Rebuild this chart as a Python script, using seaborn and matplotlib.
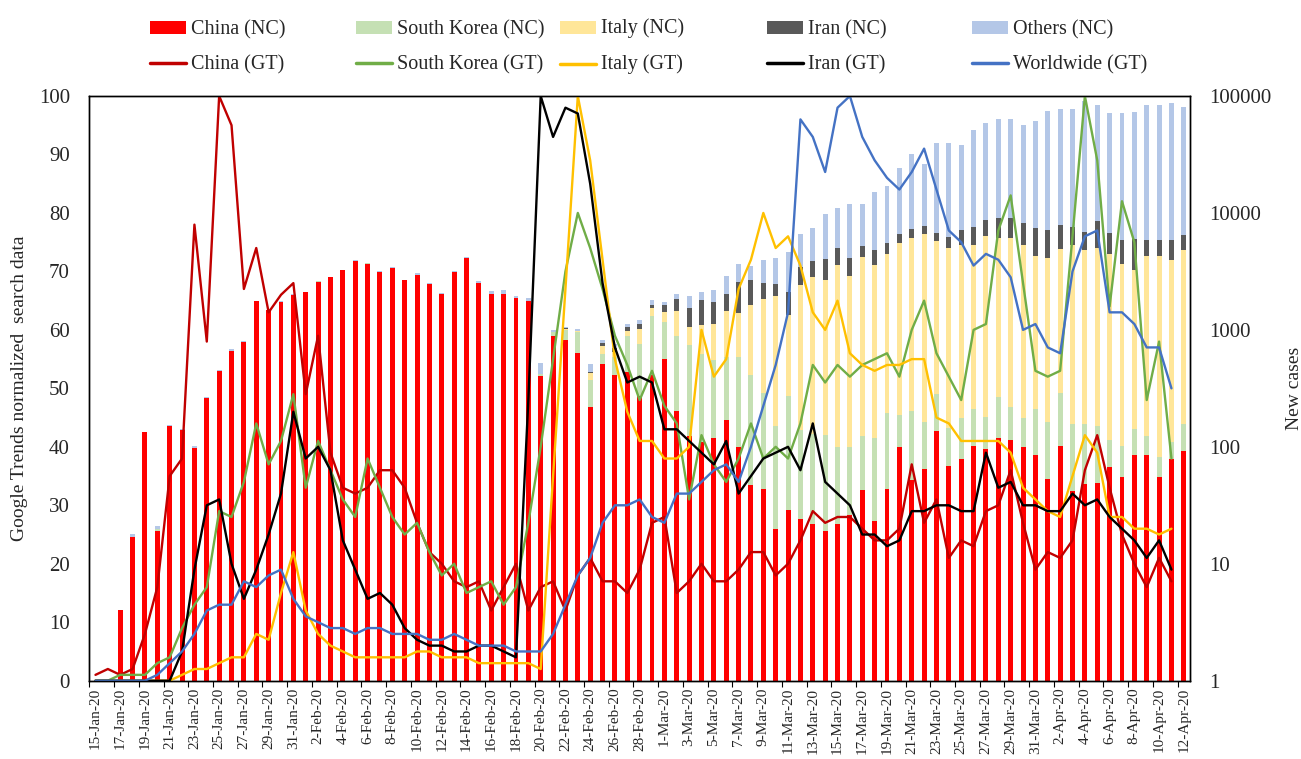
import pandas as pd
import seaborn as sns
import matplotlib.pyplot as plt
import numpy as np
from matplotlib.patches import Patch
from matplotlib.lines import Line2D
from matplotlib.ticker import FixedLocator, FuncFormatter, NullLocator

# Dates (daily, 15-Jan-20 .. 12-Apr-20)
days = pd.date_range('2020-01-15', '2020-04-12')
day_labels = [f"{d.day}-{d:%b}-20" for d in days]

# New cases (NC), stacked on the log axis
china_nc = [0, 0, 4, 17, 134, 19, 151, 140, 97, 259,
            441, 665, 787, 1753, 1466, 1740, 1980, 2102, 2590, 2829,
            3235, 3887, 3694, 3143, 3385, 2652, 2973, 2467, 2015, 3130,
            4130, 2530, 2020, 2020, 1870, 1760, 400, 881, 817, 637,
            219, 508, 415, 438, 274, 415, 569, 203, 124, 111,
            118, 168, 100, 47, 44, 20, 29, 24, 22, 19,
            22, 26, 43, 23, 44, 100, 52, 65, 136, 68,
            79, 101, 95, 120, 115, 99, 85, 53, 101, 42,
            48, 49, 67, 55, 85, 85, 55, 79, 92]
sk_nc = [0, 0, 0, 0, 0, 1, 0, 0, 0, 1,
         0, 0, 1, 0, 0, 2, 6, 1, 3, 0,
         0, 5, 3, 1, 0, 3, 0, 0, 0, 0,
         0, 0, 1, 1, 1, 15, 20, 70, 190, 313,
         152, 120, 167, 443, 484, 898, 595, 678, 617, 517,
         430, 414, 482, 368, 245, 130, 245, 115, 107, 107,
         77, 73, 81, 95, 151, 88, 151, 99, 149, 76,
         98, 110, 86, 148, 104, 76, 126, 109, 188, 114,
         108, 101, 48, 46, 56, 39, 27, 30, 64]
italy_nc = [0, 0, 0, 0, 0, 0, 0, 0, 0, 0,
            0, 0, 0, 0, 0, 0, 2, 0, 0, 0,
            0, 0, 0, 1, 0, 0, 0, 0, 0, 0,
            0, 0, 0, 0, 0, 0, 0, 3, 15, 23,
            54, 102, 70, 105, 266, 236, 252, 578, 323, 477,
            582, 877, 802, 1232, 1539, 1795, 1059, 2301, 2701, 2564,
            3511, 2801, 4106, 3492, 4265, 5392, 5947, 6426, 5425, 4846,
            5193, 5159, 6209, 5842, 5891, 5195, 4079, 3968, 4591, 5214,
            4644, 4840, 4345, 3589, 3099, 4166, 4208, 3877, 4644]
iran_nc = [0, 0, 0, 0, 0, 0, 0, 0, 0, 0,
           0, 0, 0, 0, 0, 0, 0, 0, 0, 0,
           0, 0, 0, 0, 0, 0, 0, 0, 0, 0,
           0, 0, 0, 0, 0, 2, 3, 10, 10, 14,
           13, 39, 46, 62, 106, 98, 231, 369, 485, 700,
           608, 559, 1186, 1043, 666, 530, 762, 980, 1060, 1350,
           1380, 1230, 950, 1190, 1120, 1010, 1110, 1070, 1030, 1260,
           1730, 2280, 2380, 2930, 2930, 2760, 3090, 2970, 2950, 2180,
           2090, 3500, 2330, 2200, 2690, 1600, 1600, 1910, 1690]
others_nc = [0, 0, 0, 1, 1, 1, 2, 2, 5, 8,
             12, 15, 10, 20, 15, 20, 25, 15, 20, 30,
             30, 45, 35, 45, 70, 40, 70, 40, 40, 50,
             60, 70, 150, 160, 60, 90, 100, 40, 20, 37,
             71, 48, 66, 82, 89, 156, 91, 190, 396, 315,
             439, 859, 1120, 860, 1486, 1655, 2525, 3170, 3540, 5780,
             6010, 7720, 6670, 10300, 11320, 17710, 24840, 18540, 32860, 33350,
             31100, 43850, 50230, 54660, 54660, 48770, 53820, 66900, 68970, 69250,
             83110, 74980, 64310, 65210, 67470, 77910, 77910, 80710, 74610]

# Google Trends (GT), 15-Jan-20 .. 11-Apr-20
china_gt = [1, 2, 1, 2, 8, 16, 35, 38, 78, 58,
            100, 95, 67, 74, 63, 66, 68, 49, 59, 39,
            33, 32, 33, 36, 36, 33, 27, 22, 20, 17,
            16, 17, 12, 16, 20, 12, 16, 17, 12, 18,
            21, 17, 17, 15, 19, 27, 28, 15, 17, 20,
            17, 17, 19, 22, 22, 18, 20, 24, 29, 27,
            28, 28, 26, 24, 24, 26, 37, 27, 31, 21,
            24, 23, 29, 30, 36, 27, 19, 22, 21, 24,
            36, 42, 33, 25, 20, 16, 21, 17]
sk_gt = [0, 0, 1, 1, 1, 3, 4, 9, 13, 16,
         29, 28, 34, 44, 37, 41, 49, 33, 41, 36,
         31, 28, 38, 33, 28, 25, 27, 22, 18, 20,
         15, 16, 17, 13, 16, 27, 40, 55, 70, 80,
         74, 67, 59, 54, 48, 53, 47, 44, 31, 42,
         37, 34, 38, 44, 38, 40, 38, 44, 54, 51,
         54, 52, 54, 55, 56, 52, 60, 65, 56, 52,
         48, 60, 61, 77, 83, 68, 53, 52, 53, 76,
         100, 89, 64, 82, 75, 48, 58, 38]
italy_gt = [0, 0, 0, 0, 0, 0, 0, 1, 2, 2,
            3, 4, 4, 8, 7, 15, 22, 12, 8, 6,
            5, 4, 4, 4, 4, 4, 5, 5, 4, 4,
            4, 3, 3, 3, 3, 3, 2, 35, 67, 100,
            89, 72, 55, 46, 41, 41, 38, 38, 40, 60,
            52, 55, 67, 72, 80, 74, 76, 71, 63, 60,
            65, 56, 54, 53, 54, 54, 55, 55, 45, 44,
            41, 41, 41, 41, 39, 33, 31, 29, 28, 35,
            42, 39, 28, 28, 26, 26, 25, 26]
iran_gt = [0, 0, 0, 0, 0, 0, 0, 5, 19, 30,
           31, 20, 14, 19, 25, 32, 46, 38, 40, 36,
           24, 19, 14, 15, 13, 9, 7, 6, 6, 5,
           5, 6, 6, 5, 4, 48, 100, 93, 98, 97,
           85, 68, 57, 51, 52, 51, 43, 43, 41, 39,
           37, 41, 32, 35, 38, 39, 40, 36, 44, 34,
           32, 30, 25, 25, 23, 24, 29, 29, 30, 30,
           29, 29, 39, 33, 34, 30, 30, 29, 29, 32,
           30, 31, 28, 26, 24, 21, 24, 19]
world_gt = [0, 0, 0, 0, 0, 1, 3, 5, 8, 12,
            13, 13, 17, 16, 18, 19, 14, 11, 10, 9,
            9, 8, 9, 9, 8, 8, 8, 7, 7, 8,
            7, 6, 6, 6, 5, 5, 5, 8, 13, 18,
            21, 27, 30, 30, 31, 28, 27, 32, 32, 34,
            36, 37, 34, 40, 47, 54, 63, 96, 93, 87,
            98, 100, 93, 89, 86, 84, 87, 91, 84, 77,
            75, 71, 73, 72, 69, 60, 61, 57, 56, 70,
            76, 77, 63, 63, 61, 57, 57, 50]

nc_names = ['China', 'South Korea', 'Italy', 'Iran', 'Others']
gt_names = ['China', 'South Korea', 'Italy', 'Iran', 'Worldwide']
nc_colors = ['#FF0000', '#C5E0B4', '#FFE699', '#595959', '#B4C7E7']
gt_colors = ['#C00000', '#70AD47', '#FFC000', '#000000', '#4472C4']

nc = pd.DataFrame({'China': china_nc, 'South Korea': sk_nc, 'Italy': italy_nc,
                   'Iran': iran_nc, 'Others': others_nc})
nc['day'] = np.arange(len(nc))
cum = nc[nc_names].cumsum(axis=1)
cum['day'] = nc['day']

gt = pd.DataFrame({'China': china_gt, 'South Korea': sk_gt, 'Italy': italy_gt,
                   'Iran': iran_gt, 'Worldwide': world_gt})
gt['day'] = np.arange(len(gt))

sns.set_theme(style='white')
plt.rcParams['font.family'] = ['Liberation Serif', 'DejaVu Serif']

fig, ax = plt.subplots(figsize=(13.01, 7.59), dpi=100)
fig.subplots_adjust(left=89.3 / 1301, right=1190 / 1301,
                    bottom=1 - 680.7 / 759, top=1 - 96 / 759)
ax2 = ax.twinx()
ax2.set_yscale('log')

# Stacked bars: draw cumulative totals from the top layer down
for name, col in reversed(list(zip(nc_names, nc_colors))):
    d = cum[cum[name] >= 1]
    sns.barplot(x=d['day'], y=d[name], color=col, native_scale=True, width=0.4,
                saturation=1, linewidth=0, errorbar=None, ax=ax2)

# Google Trends lines on the left axis
for name, col in zip(gt_names, gt_colors):
    sns.lineplot(data=gt, x='day', y=name, color=col, linewidth=1.7, ax=ax)

ax.set_zorder(ax2.get_zorder() + 1)
ax.patch.set_visible(False)

ax.set_xlim(-0.5, len(day_labels) - 0.5)
ax.set_ylim(0, 100)
ax2.set_ylim(1, 100000)

ax.set_yticks(range(0, 101, 10))
ax.tick_params(axis='y', length=0, labelsize=15, pad=14)
ax2.yaxis.set_major_locator(FixedLocator([1, 10, 100, 1000, 10000, 100000]))
ax2.yaxis.set_minor_locator(NullLocator())
ax2.yaxis.set_major_formatter(FuncFormatter(lambda v, p: f"{v:.0f}"))
ax2.tick_params(axis='y', which='both', length=0, labelsize=15, pad=14)

ax.set_xticks(range(0, len(day_labels), 2))
ax.set_xticklabels(day_labels[::2], rotation=90, fontsize=11)
ax.set_xticks(np.arange(-0.5, len(day_labels), 2), minor=True)
ax.tick_params(axis='x', which='major', length=0, pad=5)
ax.tick_params(axis='x', which='minor', length=4, width=0.8, direction='out',
               color='black', bottom=True)

ax.set_xlabel('')
ax.set_ylabel('Google Trends normalized  search data', fontsize=14, labelpad=8)
ax2.set_ylabel('New cases', fontsize=14, labelpad=10)

for a in (ax, ax2):
    for s in a.spines.values():
        s.set_color('black')
        s.set_linewidth(1)

# Legend: one column per country, NC on top row, GT below
col_x = [150, 356, 560, 767, 972]
for k in range(5):
    handles = [Patch(facecolor=nc_colors[k], edgecolor='none'),
               Line2D([], [], color=gt_colors[k], linewidth=2.5)]
    labels = [f'{nc_names[k]} (NC)', f'{gt_names[k]} (GT)']
    leg = fig.legend(handles, labels, loc='upper left',
                     bbox_to_anchor=(col_x[k] / 1301, 1 - 20 / 759),
                     frameon=False, fontsize=14.5, handlelength=1.8,
                     handleheight=0.6, handletextpad=0.25, labelspacing=0.8,
                     borderpad=0, borderaxespad=0)
    if nc_names[k] == 'Italy':
        # the 'y' descender pushes these labels down; lift them back in line
        for t in leg.get_texts():
            t.set_y(1.5)

fig.savefig('out.png', dpi=100)
